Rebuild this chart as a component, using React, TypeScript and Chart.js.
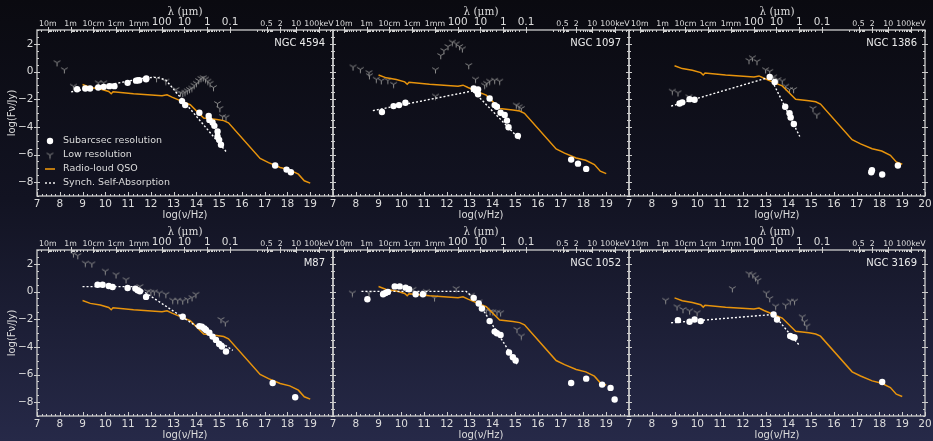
import React, { useEffect, useRef } from 'react';
import { Chart, registerables } from 'chart.js';

Chart.register(...registerables);

type Pt = [number, number];

const FONT = 'DejaVu Sans';
const TXT = '#dcdcdc';
const FRAME = '#cdcdcd';
const ORANGE = '#e8940c';
const GRAY = '#8c8c8c';

const X_TICKS = [7, 8, 9, 10, 11, 12, 13, 14, 15, 16, 17, 18, 19, 20];
const Y_TICKS = [-8, -6, -4, -2, 0, 2];

const TOP_TICK_LABELS = ['10m', '1m', '10cm', '1cm', '1mm', '100', '10', '1', '0.1', '0.5', '2', '10', '100keV'];
const TOP_TICK_LOGNU = [7.477, 8.477, 9.477, 10.477, 11.477, 12.477, 13.477, 14.477, 15.477, 17.082, 17.684, 18.383, 19.383];
const TOP_TICK_BIG = [false, false, false, false, false, true, true, true, true, false, false, false, false];

const PANEL_NAMES = ['NGC 4594', 'NGC 1097', 'NGC 1386', 'M87', 'NGC 1052', 'NGC 3169'];

// Radio-loud QSO template frequencies (log nu)
const QSO_X = [9.0, 9.34, 9.78, 10.15, 10.26, 10.34, 11.24, 12.49, 12.71, 12.93, 13.37, 13.73, 14.32, 14.9, 15.2, 15.41, 16.8, 17.17, 17.68, 18.1, 18.48, 18.74, 19.0];
const QSO_NGC4594 = [-0.94, -1.15, -1.27, -1.44, -1.61, -1.47, -1.61, -1.75, -1.68, -1.85, -2.16, -2.40, -3.36, -3.47, -3.55, -3.71, -6.29, -6.59, -6.94, -7.11, -7.42, -7.90, -8.07];
const QSO_NGC1097 = [-0.25, -0.46, -0.58, -0.75, -0.92, -0.78, -0.92, -1.06, -0.99, -1.16, -1.47, -1.71, -2.67, -2.78, -2.86, -3.02, -5.60, -5.90, -6.25, -6.42, -6.73, -7.21, -7.38];
const QSO_NGC1386 = [0.42, 0.21, 0.09, -0.08, -0.25, -0.11, -0.25, -0.39, -0.32, -0.49, -0.80, -1.04, -2.00, -2.11, -2.19, -2.35, -4.93, -5.23, -5.58, -5.75, -6.06, -6.54, -6.71];
const QSO_M87 = [-0.65, -0.86, -0.98, -1.15, -1.32, -1.18, -1.32, -1.46, -1.39, -1.56, -1.87, -2.11, -3.07, -3.18, -3.26, -3.42, -6.00, -6.30, -6.65, -6.82, -7.13, -7.61, -7.78];
const QSO_NGC1052 = [0.36, 0.15, 0.03, -0.14, -0.31, -0.17, -0.31, -0.45, -0.38, -0.55, -0.86, -1.10, -2.06, -2.17, -2.25, -2.41, -4.99, -5.29, -5.64, -5.81, -6.12, -6.60, -6.77];
const QSO_NGC3169 = [-0.46, -0.67, -0.79, -0.96, -1.13, -0.99, -1.13, -1.27, -1.20, -1.37, -1.68, -1.92, -2.88, -2.99, -3.07, -3.23, -5.81, -6.11, -6.46, -6.63, -6.94, -7.42, -7.59];

// Subarcsec-resolution photometry
const SUB_NGC4594: Pt[] = [[8.76, -1.28], [9.12, -1.23], [9.33, -1.23], [9.69, -1.16], [9.93, -1.11], [10.18, -1.06], [10.4, -1.06], [10.98, -0.82], [11.35, -0.66], [11.42, -0.64], [11.49, -0.63], [11.79, -0.56], [11.8, -0.5], [13.37, -2.14], [13.51, -2.43], [14.13, -2.98], [14.54, -3.22], [14.57, -3.5], [14.71, -3.69], [14.79, -3.93], [14.93, -4.34], [14.93, -4.7], [15.0, -4.94], [15.08, -5.3], [17.46, -6.8], [17.96, -7.09], [18.15, -7.28]];
const SUB_NGC1097: Pt[] = [[9.15, -2.93], [9.66, -2.5], [9.9, -2.43], [10.18, -2.26], [13.18, -1.23], [13.26, -1.35], [13.37, -1.3], [13.37, -1.64], [13.88, -1.95], [14.1, -2.43], [14.2, -2.55], [14.36, -2.98], [14.54, -3.14], [14.64, -3.55], [14.71, -4.03], [15.12, -4.65], [17.46, -6.37], [17.76, -6.66], [18.12, -7.04]];
const SUB_NGC1386: Pt[] = [[9.22, -2.31], [9.34, -2.23], [9.66, -2.0], [9.88, -2.04], [13.18, -0.39], [13.4, -0.75], [13.86, -2.55], [14.05, -3.02], [14.1, -3.33], [14.24, -3.79], [17.64, -7.28], [17.67, -7.14], [18.12, -7.45], [18.81, -6.8]];
const SUB_M87: Pt[] = [[9.66, 0.49], [9.88, 0.49], [10.15, 0.4], [10.32, 0.33], [10.98, 0.25], [11.32, 0.21], [11.42, 0.09], [11.52, 0.01], [11.79, -0.39], [13.4, -1.83], [14.13, -2.5], [14.24, -2.55], [14.35, -2.67], [14.42, -2.78], [14.57, -2.98], [14.71, -3.26], [14.86, -3.5], [15.0, -3.79], [15.12, -3.98], [15.3, -4.34], [17.35, -6.61], [18.34, -7.64]];
const SUB_NGC1052: Pt[] = [[8.51, -0.56], [9.2, -0.2], [9.31, -0.11], [9.41, -0.03], [9.71, 0.37], [9.93, 0.37], [10.19, 0.28], [10.34, 0.16], [10.63, -0.2], [10.95, -0.2], [13.18, -0.46], [13.4, -0.87], [13.54, -1.23], [13.88, -2.14], [14.1, -2.9], [14.2, -3.02], [14.36, -3.14], [14.73, -4.41], [14.9, -4.75], [15.02, -4.99], [17.46, -6.61], [18.12, -6.3], [18.82, -6.73], [19.19, -6.97], [19.37, -7.81]];
const SUB_NGC3169: Pt[] = [[9.15, -2.07], [9.66, -2.19], [9.88, -2.02], [10.15, -2.14], [13.35, -1.66], [13.5, -2.02], [14.08, -3.22], [14.2, -3.31], [14.27, -3.33], [18.12, -6.54]];

// Low-resolution photometry
const LOW_NGC4594: Pt[] = [[7.88, 0.64], [8.2, 0.13], [8.6, -1.06], [9.69, -0.82], [9.93, -0.82], [12.25, -0.51], [12.66, -0.7], [13.1, -1.3], [13.3, -1.55], [13.4, -1.6], [13.5, -1.5], [13.6, -1.4], [13.7, -1.3], [13.8, -1.2], [13.9, -1.0], [14.0, -0.85], [14.1, -0.65], [14.2, -0.5], [14.3, -0.45], [14.4, -0.55], [14.5, -0.7], [14.6, -0.85], [14.75, -1.15], [14.93, -2.31], [15.03, -2.67], [15.15, -3.26], [15.3, -3.31]];
const LOW_NGC1097: Pt[] = [[7.88, 0.33], [8.2, 0.16], [8.58, -0.08], [8.6, -0.3], [8.9, -0.56], [9.12, -0.66], [9.41, -0.63], [9.66, -0.92], [11.5, 0.13], [11.73, 1.16], [11.87, 1.52], [12.05, 1.81], [12.24, 2.12], [12.41, 2.0], [12.56, 1.81], [12.68, 1.64], [12.96, 0.44], [13.26, -0.56], [13.66, -0.99], [13.75, -0.85], [13.88, -0.7], [14.1, -0.63], [14.32, -0.7], [11.5, -1.78], [15.05, -2.43], [15.17, -2.55], [15.27, -2.67]];
const LOW_NGC1386: Pt[] = [[8.9, -1.42], [9.15, -1.54], [9.63, -1.83], [12.27, 0.8], [12.42, 0.99], [12.62, 0.73], [13.0, 0.13], [13.18, 0.01], [13.35, -0.39], [13.54, -0.58], [13.73, -0.68], [13.88, -1.06], [14.05, -1.3], [14.23, -1.3], [15.08, -2.67], [15.25, -3.14]];
const LOW_M87: Pt[] = [[8.6, 2.72], [8.79, 2.6], [9.12, 2.05], [9.41, 2.0], [10.0, 1.47], [10.47, 1.21], [10.91, 0.85], [11.52, 0.37], [11.86, 0.01], [12.0, -0.05], [12.15, -0.03], [12.37, -0.11], [12.66, -0.2], [12.96, -0.63], [13.18, -0.63], [13.4, -0.68], [13.62, -0.58], [13.81, -0.44], [13.98, -0.2], [15.08, -2.02], [15.27, -2.26]];
const LOW_NGC1052: Pt[] = [[7.85, -0.11], [8.58, -0.11], [10.51, 0.16], [11.1, 0.01], [11.46, -0.46], [12.41, 0.21], [13.07, -0.27], [13.41, -0.75], [13.73, -1.35], [13.9, -1.45], [14.02, -1.47], [14.2, -1.5], [14.36, -1.54], [15.08, -2.74], [15.27, -3.22]];
const LOW_NGC3169: Pt[] = [[8.61, -0.63], [9.11, -1.11], [9.37, -1.3], [9.66, -1.4], [9.99, -1.54], [11.54, 0.21], [12.27, 1.28], [12.44, 1.21], [12.56, 0.99], [12.66, 0.8], [13.03, -0.11], [13.18, -0.51], [13.44, -1.06], [13.88, -0.99], [14.08, -0.7], [14.27, -0.7], [14.61, -1.83], [14.71, -2.19], [14.81, -2.5]];

// Synchrotron self-absorption model (broken power law nodes)
const SSA_NGC4594: Pt[] = [[8.5, -1.47], [11.8, -0.45], [12.25, -0.42], [12.65, -0.6], [15.3, -5.78]];
const SSA_NGC1097: Pt[] = [[8.75, -2.83], [13.15, -1.4], [15.2, -4.9]];
const SSA_NGC1386: Pt[] = [[8.85, -2.5], [13.2, -0.4], [14.5, -4.7]];
const SSA_M87: Pt[] = [[9.0, 0.35], [11.2, 0.35], [11.5, 0.2], [15.6, -4.25]];
const SSA_NGC1052: Pt[] = [[8.25, 0.01], [12.85, 0.01], [13.37, -0.75], [15.12, -5.34]];
const SSA_NGC3169: Pt[] = [[8.85, -2.26], [13.35, -1.66], [14.5, -3.93]];

const PANELS = [
  { name: PANEL_NAMES[0], sub: SUB_NGC4594, low: LOW_NGC4594, ssa: SSA_NGC4594, qso: QSO_NGC4594 },
  { name: PANEL_NAMES[1], sub: SUB_NGC1097, low: LOW_NGC1097, ssa: SSA_NGC1097, qso: QSO_NGC1097 },
  { name: PANEL_NAMES[2], sub: SUB_NGC1386, low: LOW_NGC1386, ssa: SSA_NGC1386, qso: QSO_NGC1386 },
  { name: PANEL_NAMES[3], sub: SUB_M87, low: LOW_M87, ssa: SSA_M87, qso: QSO_M87 },
  { name: PANEL_NAMES[4], sub: SUB_NGC1052, low: LOW_NGC1052, ssa: SSA_NGC1052, qso: QSO_NGC1052 },
  { name: PANEL_NAMES[5], sub: SUB_NGC3169, low: LOW_NGC3169, ssa: SSA_NGC3169, qso: QSO_NGC3169 },
];

const COL_LEFT = [0, 296, 592];
const ROW_TOP = [0, 220];
const CW = 343;
const CH = 221;

function topMinorTicks(): number[] {
  const out: number[] = [];
  for (let d = -1; d <= 7; d++) {
    for (let k = 2; k <= 9; k++) {
      const v = 14.477 - (Math.log10(k) + d);
      if (v > 7 && v < 16.2) out.push(v);
    }
  }
  for (let d = -1; d <= 2; d++) {
    for (let k = 2; k <= 9; k++) {
      const v = Math.log10(k) + d + 17.383;
      if (v > 16.6 && v < 20) out.push(v);
    }
  }
  return out;
}

function makeTri(): HTMLCanvasElement {
  const c = document.createElement('canvas');
  c.width = 9;
  c.height = 9;
  const g = c.getContext('2d')!;
  g.strokeStyle = GRAY;
  g.lineWidth = 1;
  const cx = 4.5, cy = 4.5, r = 3.8;
  g.beginPath();
  g.moveTo(cx, cy); g.lineTo(cx, cy + r);
  g.moveTo(cx, cy); g.lineTo(cx - r * 0.866, cy - r * 0.5);
  g.moveTo(cx, cy); g.lineTo(cx + r * 0.866, cy - r * 0.5);
  g.stroke();
  return c;
}

const toXY = (arr: Pt[]) => arr.map(([x, y]) => ({ x, y }));

function makeConfig(p: typeof PANELS[number], col: number, showLegend: boolean, tri: HTMLCanvasElement): any {
  const minorTop = topMinorTicks();
  const framePlugin = {
    id: 'frameTicks',
    afterDraw(chart: any) {
      const { ctx, chartArea: a, scales } = chart;
      const sx = scales.x, sy = scales.y;
      ctx.save();
      ctx.strokeStyle = FRAME;
      ctx.lineWidth = 1;
      ctx.beginPath();
      for (let i = 0; i <= 65; i++) {
        const v = 7 + i * 0.2;
        const px = Math.round(sx.getPixelForValue(v)) + 0.5;
        const len = i % 5 === 0 ? 4 : 2;
        ctx.moveTo(px, a.bottom); ctx.lineTo(px, a.bottom - len);
      }
      TOP_TICK_LOGNU.forEach((v) => {
        const px = Math.round(sx.getPixelForValue(v)) + 0.5;
        ctx.moveTo(px, a.top - 3); ctx.lineTo(px, a.top + 3);
      });
      minorTop.forEach((v) => {
        const px = Math.round(sx.getPixelForValue(v)) + 0.5;
        ctx.moveTo(px, a.top); ctx.lineTo(px, a.top + 2);
      });
      for (let i = 0; i <= 24; i++) {
        const v = -9 + i * 0.5;
        const py = Math.round(sy.getPixelForValue(v)) + 0.5;
        const major = Math.abs(v) % 2 === 0;
        if (major) {
          ctx.moveTo(a.left - 3, py); ctx.lineTo(a.left + 3, py);
          ctx.moveTo(a.right - 3, py); ctx.lineTo(a.right + 3, py);
        } else {
          ctx.moveTo(a.left, py); ctx.lineTo(a.left + 2, py);
          ctx.moveTo(a.right - 2, py); ctx.lineTo(a.right, py);
        }
      }
      ctx.stroke();
      ctx.lineWidth = 1.3;
      ctx.strokeRect(a.left, a.top, a.right - a.left, a.bottom - a.top);

      ctx.fillStyle = '#ececec';
      ctx.font = `10px "${FONT}"`;
      ctx.textAlign = 'right';
      ctx.textBaseline = 'middle';
      ctx.fillText(p.name, a.right - 8, a.top + 13);

      if (showLegend) {
        const rows = ['Subarcsec resolution', 'Low resolution', 'Radio-loud QSO', 'Synch. Self-Absorption'];
        const mx = a.left + 13;
        const tx = a.left + 26;
        rows.forEach((label, i) => {
          const y = a.bottom - 55 + i * 14;
          if (i === 0) {
            ctx.fillStyle = '#ffffff';
            ctx.beginPath(); ctx.arc(mx, y, 3.2, 0, Math.PI * 2); ctx.fill();
          } else if (i === 1) {
            ctx.drawImage(tri, mx - 4.5, y - 4.5);
          } else if (i === 2) {
            ctx.strokeStyle = ORANGE; ctx.lineWidth = 1.6; ctx.setLineDash([]);
            ctx.beginPath(); ctx.moveTo(mx - 5, y); ctx.lineTo(mx + 5, y); ctx.stroke();
          } else {
            ctx.strokeStyle = '#ffffff'; ctx.lineWidth = 1.4; ctx.setLineDash([2, 2]);
            ctx.beginPath(); ctx.moveTo(mx - 5, y); ctx.lineTo(mx + 5, y); ctx.stroke();
            ctx.setLineDash([]);
          }
          ctx.fillStyle = TXT;
          ctx.font = `9.5px "${FONT}"`;
          ctx.textAlign = 'left';
          ctx.textBaseline = 'middle';
          ctx.fillText(label, tx, y);
        });
      }
      ctx.restore();
    },
  };

  return {
    type: 'scatter',
    data: {
      datasets: [
        { label: 'Subarcsec resolution', data: toXY(p.sub), pointRadius: 3.2, pointBackgroundColor: '#ffffff', pointBorderWidth: 0, showLine: false },
        { label: 'Synch. Self-Absorption', data: toXY(p.ssa), showLine: true, borderColor: '#ffffff', borderWidth: 1.4, borderDash: [2, 2], pointRadius: 0, fill: false },
        { label: 'Radio-loud QSO', data: QSO_X.map((x, i) => ({ x, y: p.qso[i] })), showLine: true, borderColor: ORANGE, borderWidth: 1.5, pointRadius: 0, fill: false },
        { label: 'Low resolution', data: toXY(p.low), pointStyle: tri, pointRadius: 3, showLine: false },
      ],
    },
    options: {
      responsive: false,
      animation: false,
      devicePixelRatio: 1,
      events: [],
      layout: { padding: { left: 0, right: 10, top: 0, bottom: 0 } },
      plugins: { legend: { display: false }, tooltip: { enabled: false } },
      scales: {
        x: {
          type: 'linear', position: 'bottom', min: 7, max: 20,
          afterBuildTicks: (s: any) => { s.ticks = X_TICKS.map((v) => ({ value: v })); },
          afterFit: (s: any) => { s.height = 25; s.paddingLeft = 0; s.paddingRight = 0; },
          grid: { display: false, drawTicks: false },
          border: { display: false },
          ticks: {
            autoSkip: false, maxRotation: 0, padding: 1.5, color: TXT,
            font: { family: FONT, size: 10.5 },
            callback: (v: number) => (v === 20 && col !== 2 ? '' : String(v)),
          },
          title: { display: true, text: 'log(\u03bd/Hz)', color: TXT, font: { family: FONT, size: 10 }, padding: 0 },
        },
        x2: {
          type: 'linear', position: 'top', min: 7, max: 20,
          afterBuildTicks: (s: any) => { s.ticks = TOP_TICK_LOGNU.map((v) => ({ value: v })); },
          afterFit: (s: any) => { s.height = 30; s.paddingLeft = 0; s.paddingRight = 0; },
          grid: { display: false, drawTicks: false },
          border: { display: false },
          ticks: {
            autoSkip: false, maxRotation: 0, padding: 1.5, color: TXT,
            font: (ctx: any) => ({ family: FONT, size: TOP_TICK_BIG[ctx.index] ? 10.5 : 7.8 }),
            callback: (_v: number, i: number) => TOP_TICK_LABELS[i],
          },
          title: { display: true, text: '\u03bb (\u03bcm)', color: TXT, font: { family: 'DejaVu Serif', size: 10.5 }, padding: { top: 6, bottom: 0 } },
        },
        y: {
          type: 'linear', position: 'left', min: -9, max: 3,
          afterBuildTicks: (s: any) => { s.ticks = Y_TICKS.map((v) => ({ value: v })); },
          afterFit: (s: any) => { s.width = 37; s.paddingTop = 0; s.paddingBottom = 0; },
          grid: { display: false, drawTicks: false },
          border: { display: false },
          ticks: {
            display: col === 0, padding: 3.5, color: TXT,
            font: { family: FONT, size: 10.5 },
            callback: (v: number) => (v < 0 ? '\u2212' + Math.abs(v) : String(v)),
          },
          title: { display: col === 0, text: 'log(F\u03bd/Jy)', color: TXT, font: { family: FONT, size: 10 }, padding: { top: 6, bottom: 0 } },
        },
      },
    },
    plugins: [framePlugin],
  };
}

export default function App() {
  const refs = useRef<(HTMLCanvasElement | null)[]>([]);
  useEffect(() => {
    const tri = makeTri();
    const charts = PANELS.map((p, i) => {
      const cv = refs.current[i]!;
      return new Chart(cv, makeConfig(p, i % 3, i === 0, tri));
    });
    return () => charts.forEach((c) => c.destroy());
  }, []);
  return (
    <div
      style={{
        position: 'fixed', left: 0, top: 0, width: 933, height: 441, overflow: 'hidden',
        background: 'linear-gradient(to bottom, #0a0a10 0%, #121322 45%, #262948 100%)',
      }}
    >
      {PANELS.map((p, i) => (
        <canvas
          key={p.name}
          ref={(el) => { refs.current[i] = el; }}
          width={CW}
          height={CH}
          style={{ position: 'absolute', left: COL_LEFT[i % 3], top: ROW_TOP[Math.floor(i / 3)], width: CW, height: CH }}
        />
      ))}
    </div>
  );
}
